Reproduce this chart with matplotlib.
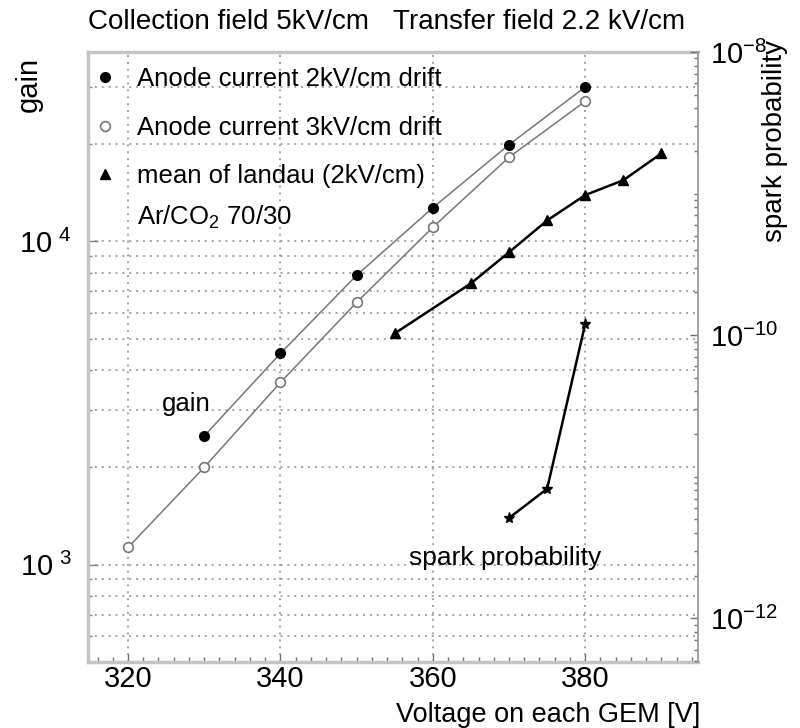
import matplotlib
matplotlib.use('Agg')
import matplotlib.pyplot as plt
from matplotlib.lines import Line2D
from matplotlib.ticker import FixedLocator, LogLocator, MultipleLocator, NullFormatter, FixedFormatter

plt.rcParams['font.family'] = ['Liberation Sans', 'DejaVu Sans']
plt.rcParams['mathtext.fontset'] = 'custom'
plt.rcParams['mathtext.rm'] = 'Liberation Sans'
plt.rcParams['mathtext.default'] = 'regular'

# gain from anode current, 2 kV/cm drift
volt_2kv = [330, 340, 350, 360, 370, 380]
gain_2kv = [2500, 4500, 7850, 12700, 19900, 30000]
# gain from anode current, 3 kV/cm drift
volt_3kv = [320, 330, 340, 350, 360, 370, 380]
gain_3kv = [1130, 2000, 3660, 6470, 11050, 18200, 27100]
# mean of landau (2 kV/cm)
volt_landau = [355, 365, 370, 375, 380, 385, 390]
landau_mean = [5190, 7410, 9250, 11600, 13900, 15450, 18700]
# spark probability (right axis)
volt_spark = [370, 375, 380]
spark_prob = [5.1e-12, 8.2e-12, 1.2e-10]

legend_labels = ['Anode current 2kV/cm drift', 'Anode current 3kV/cm drift',
                 'mean of landau (2kV/cm)']
x_ticks = [320, 340, 360, 380]
gain_ticks = [1e3, 1e4]
gain_tick_labels = [r'$10^{\,\,3}$', r'$10^{\,\,4}$']
spark_ticks = [1e-12, 1e-10, 1e-8]
spark_tick_labels = [r'$10^{-12}$', r'$10^{-10}$', r'$10^{-8}$']

fig = plt.figure(figsize=(8, 7.28), dpi=100)
ax = fig.add_axes([88/800, 66/728, 610/800, 610/728])
ax.set_yscale('log')
ax.set_xlim(314.75, 394.8)
ax.set_ylim(500, 38500)

grid_kw = dict(color='#8c8c8c', lw=1.1, ls=(0, (1.3, 3.2)))
ax.xaxis.set_major_locator(FixedLocator(x_ticks))
ax.xaxis.set_minor_locator(MultipleLocator(2))
ax.yaxis.set_major_locator(FixedLocator(gain_ticks))
ax.yaxis.set_major_formatter(FixedFormatter(gain_tick_labels))
ax.yaxis.set_minor_locator(LogLocator(base=10, subs=range(2, 10)))
ax.yaxis.set_minor_formatter(NullFormatter())
ax.grid(True, which='major', axis='x', **grid_kw)
ax.grid(True, which='both', axis='y', **grid_kw)
ax.set_axisbelow(True)

ax.tick_params(axis='x', which='major', direction='in', length=6, width=1,
               color='#707070', labelsize=21, pad=2, top=False)
ax.tick_params(axis='x', which='minor', direction='in', length=3.5, width=1,
               color='#707070', top=False)
ax.tick_params(axis='y', which='major', direction='in', length=7, width=1,
               color='#808080', labelsize=21, pad=12, right=False)
ax.tick_params(axis='y', which='minor', direction='in', length=3, width=1,
               color='#808080', right=False)

for s in ['left', 'top', 'bottom']:
    ax.spines[s].set_color('#c4c4c4')
    ax.spines[s].set_linewidth(2.5)
ax.spines['right'].set_visible(False)

ax.plot(volt_2kv, gain_2kv, color='#777777', lw=1.1, marker='o', ms=7,
        mfc='black', mec='black', zorder=3)
ax.plot(volt_3kv, gain_3kv, color='#777777', lw=1.1, marker='o', ms=7,
        mfc='white', mec='#777777', mew=1.2, zorder=3)
ax.plot(volt_landau, landau_mean, color='black', lw=1.8, marker='^', ms=7, zorder=3)

ax2 = ax.twinx()
ax2.set_yscale('log')
ax2.set_ylim(4.9e-13, 1e-8)
ax2.yaxis.set_major_locator(FixedLocator(spark_ticks))
ax2.yaxis.set_major_formatter(FixedFormatter(spark_tick_labels))
ax2.yaxis.set_minor_locator(LogLocator(base=10, subs=range(1, 10)))
ax2.yaxis.set_minor_formatter(NullFormatter())
ax2.tick_params(axis='y', which='major', direction='in', length=6, width=1,
                color='#707070', labelsize=21, pad=9)
ax2.tick_params(axis='y', which='minor', direction='in', length=3, width=1,
                color='#707070')
for s in ['left', 'top', 'bottom']:
    ax2.spines[s].set_visible(False)
ax2.spines['right'].set_color('#9a9a9a')
ax2.spines['right'].set_linewidth(1.3)
ax2.plot(volt_spark, spark_prob, color='black', lw=1.8, marker='*', ms=8, zorder=3)

handles = [Line2D([], [], ls='none', marker='o', ms=7, mfc='black', mec='black'),
           Line2D([], [], ls='none', marker='o', ms=7, mfc='white', mec='#777777', mew=1.2),
           Line2D([], [], ls='none', marker='^', ms=7, mfc='black', mec='black')]
ax.legend(handles, legend_labels, loc='upper left', bbox_to_anchor=(0, 1 - 7/610),
          frameon=False, fontsize=18.5, handlelength=0.7, handletextpad=0.89,
          borderaxespad=0.22, borderpad=0.1, labelspacing=0.95)
ax.text(0.0803, 0.7295, r'Ar/CO$_2$ 70/30', transform=ax.transAxes,
        fontsize=18.5, va='center', ha='left')

ax.text(327.6, 3150, 'gain', fontsize=18.5, ha='center', va='center')
ax.text(369.5, 1050, 'spark probability', fontsize=19, ha='center', va='center')

ax.set_xlabel('Voltage on each GEM [V]', fontsize=19.5, loc='right')
ax.xaxis.set_label_coords(1.003, -0.066)
ax.set_ylabel('gain', fontsize=21, loc='top')
ax.yaxis.set_label_coords(-0.074, 0.992)
ax2.set_ylabel('spark probability', fontsize=20, loc='top')
ax2.yaxis.set_label_coords(1.105, 1.02)

fig.text(88/800, 1 - 22/728, 'Collection field 5kV/cm', fontsize=20,
         ha='left', va='center')
fig.text(685/800, 1 - 22/728, 'Transfer field 2.2 kV/cm', fontsize=20,
         ha='right', va='center')

fig.savefig('out.png', dpi=100)
